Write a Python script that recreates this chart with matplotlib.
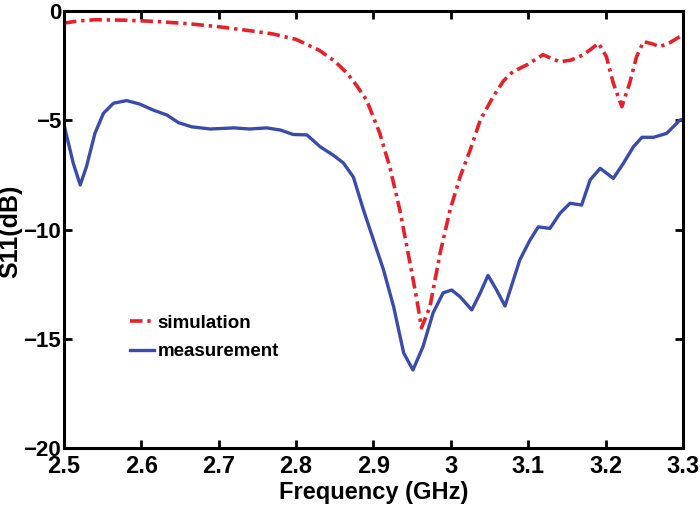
import numpy as np
import matplotlib
matplotlib.use('Agg')
import matplotlib.pyplot as plt

plt.rcParams['font.family'] = ['Liberation Sans', 'DejaVu Sans']
plt.rcParams['font.weight'] = 'bold'
plt.rcParams['lines.scale_dashes'] = False

# simulated S11 (dB)
simFreq = [2.50, 2.52, 2.54, 2.58, 2.62, 2.66, 2.70, 2.74, 2.77, 2.80, 2.83,
           2.85, 2.866, 2.878, 2.891, 2.908, 2.921, 2.934, 2.947, 2.956, 2.962,
           2.973, 2.986, 2.999, 3.012, 3.025, 3.038, 3.055, 3.068, 3.08, 3.098,
           3.119, 3.132, 3.141, 3.155, 3.171, 3.191, 3.201, 3.21, 3.221, 3.231,
           3.24, 3.249, 3.26, 3.27, 3.283, 3.296, 3.30]
simS11 = [-0.55, -0.45, -0.4, -0.42, -0.48, -0.58, -0.72, -0.9, -1.05, -1.3, -1.8,
          -2.3, -2.85, -3.4, -4.07, -5.58, -7.13, -9.1, -11.5, -13.2, -14.5,
          -13.53, -11.1, -9.1, -7.58, -6.36, -4.99, -3.9, -3.2, -2.78, -2.47,
          -2.0, -2.2, -2.32, -2.25, -2.01, -1.48, -2.09, -3.31, -4.38, -3.31,
          -2.09, -1.4, -1.5, -1.63, -1.45, -1.17, -1.15]

# measured S11 (dB)
measFreq = [2.50, 2.512, 2.521, 2.529, 2.54, 2.551, 2.564, 2.581, 2.598, 2.615,
            2.633, 2.648, 2.665, 2.689, 2.72, 2.74, 2.762, 2.78, 2.796, 2.814,
            2.831, 2.848, 2.861, 2.874, 2.887, 2.90, 2.913, 2.926, 2.939, 2.951,
            2.964, 2.977, 2.99, 3.001, 3.012, 3.027, 3.038, 3.048, 3.058, 3.07,
            3.08, 3.089, 3.102, 3.113, 3.128, 3.141, 3.154, 3.169, 3.18, 3.193,
            3.21, 3.223, 3.236, 3.247, 3.262, 3.279, 3.296, 3.30]
measS11 = [-5.2, -6.97, -7.96, -7.13, -5.6, -4.68, -4.22, -4.1, -4.26, -4.53,
           -4.76, -5.11, -5.3, -5.4, -5.35, -5.4, -5.35, -5.45, -5.65, -5.67,
           -6.21, -6.6, -6.95, -7.6, -9.1, -10.48, -11.85, -13.53, -15.65, -16.43,
           -15.36, -13.82, -12.9, -12.77, -13.08, -13.68, -12.9, -12.1, -12.7, -13.5,
           -12.4, -11.4, -10.5, -9.88, -9.95, -9.26, -8.8, -8.88, -7.73, -7.2,
           -7.66, -6.97, -6.21, -5.78, -5.78, -5.6, -4.99, -4.95]

fig = plt.figure(figsize=(7, 5.12), dpi=100)
ax = fig.add_axes([0.0914, 0.125, 0.8843, 0.8535])

ax.plot(simFreq, simS11, color='#e8202a', lw=2.6, dashes=(9, 3.5, 2.4, 3.5),
        label='simulation')
ax.plot(measFreq, measS11, color='#3a4cab', lw=2.4, label='measurement')

ax.set_xlim(2.5, 3.3)
ax.set_ylim(-20, 0)
ax.set_xticks(np.arange(2.5, 3.31, 0.1))
ax.set_xticklabels(['2.5', '2.6', '2.7', '2.8', '2.9', '3', '3.1', '3.2', '3.3'])
ax.set_yticks([-20, -15, -10, -5, 0])
ax.tick_params(direction='in', length=6, width=2, top=True, right=True,
               labelsize=17)
ax.tick_params(axis='x', pad=5)
ax.tick_params(axis='y', pad=2, labelsize=16)
for s in ax.spines.values():
    s.set_linewidth(2.2)

ax.set_xlabel('Frequency (GHz)', fontsize=17, fontweight='bold', labelpad=2)
ax.set_ylabel('S11(dB)', fontsize=18, fontweight='bold', va='center')
ax.yaxis.set_label_coords(-0.086, 0.495)

ax.legend(loc='upper left', bbox_to_anchor=(0.107, 0.305), frameon=False,
          fontsize=13.5, handlelength=1.25, handletextpad=0.2, labelspacing=0.6,
          borderaxespad=0, borderpad=0)

fig.savefig('out.png', dpi=100)
